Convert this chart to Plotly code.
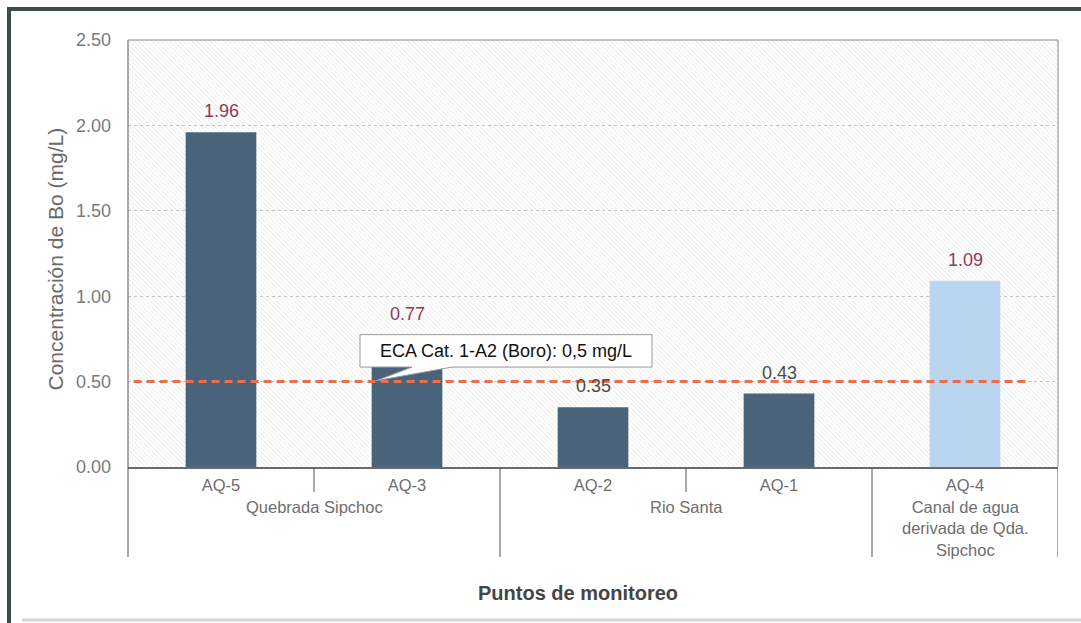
import base64
import plotly.graph_objects as go

# ---- data ----
stations = ["AQ-5", "AQ-3", "AQ-2", "AQ-1", "AQ-4"]
boron_mg_l = [1.96, 0.77, 0.35, 0.43, 1.09]
group_names = ["Quebrada Sipchoc", "Rio Santa",
               "Canal de agua<br>derivada de Qda.<br>Sipchoc"]
group_sizes = [2, 2, 1]
eca_limit = 0.5
eca_text = "ECA Cat. 1-A2 (Boro): 0,5 mg/L"
y_ticks = [0.0, 0.5, 1.0, 1.5, 2.0, 2.5]

# ---- styling ----
W, H = 1081, 623
L, R, T, B = 128, 23, 40, 156
PW, PH = W - L - R, H - T - B
bar_colors = ["#48637a", "#48637a", "#48637a", "#48637a", "#b9d5f0"]
value_colors = ["#8e3b5a", "#8e3b5a", "#4a4a4a", "#4a4a4a", "#8e3b5a"]
FONT = "Liberation Sans, Arial, sans-serif"


def px_x(px):
    """pixel column -> paper x"""
    return (px - L) / PW


def px_y(py):
    """pixel row -> paper y"""
    return (H - B - py) / PH


# faint diagonal hatch texture for the plotting area
svg = (
    f'<svg xmlns="http://www.w3.org/2000/svg" width="{PW}" height="{PH}">'
    '<defs><pattern id="h" patternUnits="userSpaceOnUse" width="4.5" height="4.5">'
    '<path d="M-1,-1 L5.5,5.5" stroke="#dedede" stroke-width="0.7"/></pattern></defs>'
    f'<rect width="{PW}" height="{PH}" fill="#ffffff"/>'
    f'<rect width="{PW}" height="{PH}" fill="url(#h)"/></svg>'
)
hatch_uri = "data:image/svg+xml;base64," + base64.b64encode(svg.encode()).decode()

fig = go.Figure()
fig.add_trace(go.Bar(
    x=stations, y=boron_mg_l, width=0.38,
    marker=dict(color=bar_colors, line=dict(width=0)),
    hoverinfo="skip", showlegend=False,
))

shapes = []
annotations = []

# ECA limit line
shapes.append(dict(type="line", xref="x", yref="y", x0=-0.47, x1=4.34,
                   y0=eca_limit, y1=eca_limit, layer="above",
                   line=dict(color="#e8704f", width=3, dash="8px,5px")))

# callout box with tail pointing at the limit line
bx0, bx1 = -0.5 + (360 - L) / 186, -0.5 + (652 - L) / 186
by_top, by_bot = 0.775, 0.585
tip_x, tip_y = -0.5 + (376 - L) / 186, eca_limit + 0.005
tail_a, tail_b = -0.5 + (412 - L) / 186, -0.5 + (452 - L) / 186
shapes.append(dict(
    type="path", xref="x", yref="y", layer="above",
    path=(f"M {bx0},{by_top} L {bx1},{by_top} L {bx1},{by_bot} L {tail_b},{by_bot} "
          f"L {tip_x},{tip_y} L {tail_a},{by_bot} L {bx0},{by_bot} Z"),
    fillcolor="#ffffff", line=dict(color="#9a9a9a", width=1)))
annotations.append(dict(
    x=(bx0 + bx1) / 2, y=(by_top + by_bot) / 2, xref="x", yref="y",
    text=eca_text, showarrow=False,
    font=dict(family=FONT, size=18, color="#111111")))

# value labels above the bars
for s, v, c in zip(stations, boron_mg_l, value_colors):
    annotations.append(dict(x=s, y=v, xref="x", yref="y", text=f"{v:.2f}",
                            showarrow=False, yshift=21,
                            font=dict(family=FONT, size=18, color=c)))

# group labels and dividers under the axis
start = 0
for name, n in zip(group_names, group_sizes):
    mid = start + (n - 1) / 2
    annotations.append(dict(x=mid, y=px_y(496), xref="x", yref="paper",
                            yanchor="top", text=name, showarrow=False,
                            font=dict(family=FONT, size=16.5, color="#6e6e6e")))
    for k in range(1, n):
        xb = start + k - 0.5
        shapes.append(dict(type="line", xref="x", yref="paper", x0=xb, x1=xb,
                           y0=0, y1=px_y(492), line=dict(color="#555555", width=1)))
    start += n
    xb = start - 0.5
    shapes.append(dict(type="line", xref="x", yref="paper", x0=xb, x1=xb,
                       y0=0, y1=px_y(557), line=dict(color="#555555", width=1)))

# plot frame (left edge reaches below the category labels)
shapes.append(dict(type="line", xref="paper", yref="paper", x0=0, x1=0,
                   y0=1, y1=px_y(557), line=dict(color="#555555", width=1)))
shapes.append(dict(type="line", xref="paper", yref="paper", x0=0, x1=1,
                   y0=1, y1=1, line=dict(color="#8a8a8a", width=1)))
shapes.append(dict(type="line", xref="paper", yref="paper", x0=1, x1=1,
                   y0=1, y1=0, line=dict(color="#8a8a8a", width=1)))

# outer border of the figure
shapes.append(dict(type="line", xref="paper", yref="paper",
                   x0=px_x(9), x1=px_x(9), y0=px_y(7), y1=px_y(623),
                   line=dict(color="#3e4c47", width=4)))
shapes.append(dict(type="line", xref="paper", yref="paper",
                   x0=px_x(7), x1=px_x(1081), y0=px_y(9), y1=px_y(9),
                   line=dict(color="#3e4c47", width=4)))
shapes.append(dict(type="line", xref="paper", yref="paper",
                   x0=px_x(22), x1=px_x(1081), y0=px_y(620), y1=px_y(620),
                   line=dict(color="#d6d6d6", width=3)))

# axis titles
annotations.append(dict(x=px_x(41), y=px_y(259), xref="paper", yref="paper",
                        text="Concentración de Bo (mg/L)", textangle=-90,
                        showarrow=False,
                        font=dict(family=FONT, size=21, color="#6a6a6a")))
annotations.append(dict(x=px_x(578), y=px_y(606), xref="paper", yref="paper",
                        text="<b>Puntos de monitoreo</b>", showarrow=False,
                        font=dict(family=FONT, size=20, color="#454545")))

fig.update_layout(
    width=W, height=H,
    margin=dict(l=L, r=R, t=T, b=B, pad=0),
    paper_bgcolor="#ffffff", plot_bgcolor="rgba(0,0,0,0)",
    font=dict(family=FONT),
    bargap=0.62,
    shapes=shapes, annotations=annotations,
    images=[dict(source=hatch_uri, xref="paper", yref="paper", x=0, y=1,
                 sizex=1, sizey=1, xanchor="left", yanchor="top",
                 sizing="stretch", layer="below")],
    xaxis=dict(type="category", range=[-0.5, 4.5], showgrid=False,
               showline=True, linecolor="#6a6a6a", linewidth=2,
               ticks="", ticklabelstandoff=2,
               tickfont=dict(family=FONT, size=16.5, color="#6e6e6e"),
               fixedrange=True),
    yaxis=dict(range=[0, 2.5], tickvals=y_ticks, tickformat=".2f",
               showgrid=True, gridcolor="#c4c4c4", griddash="dot", gridwidth=1,
               zeroline=False, showline=False, ticks="", ticklabelstandoff=16,
               tickfont=dict(family=FONT, size=18, color="#7a7a7a"),
               fixedrange=True),
)

fig.write_html("out.html")
